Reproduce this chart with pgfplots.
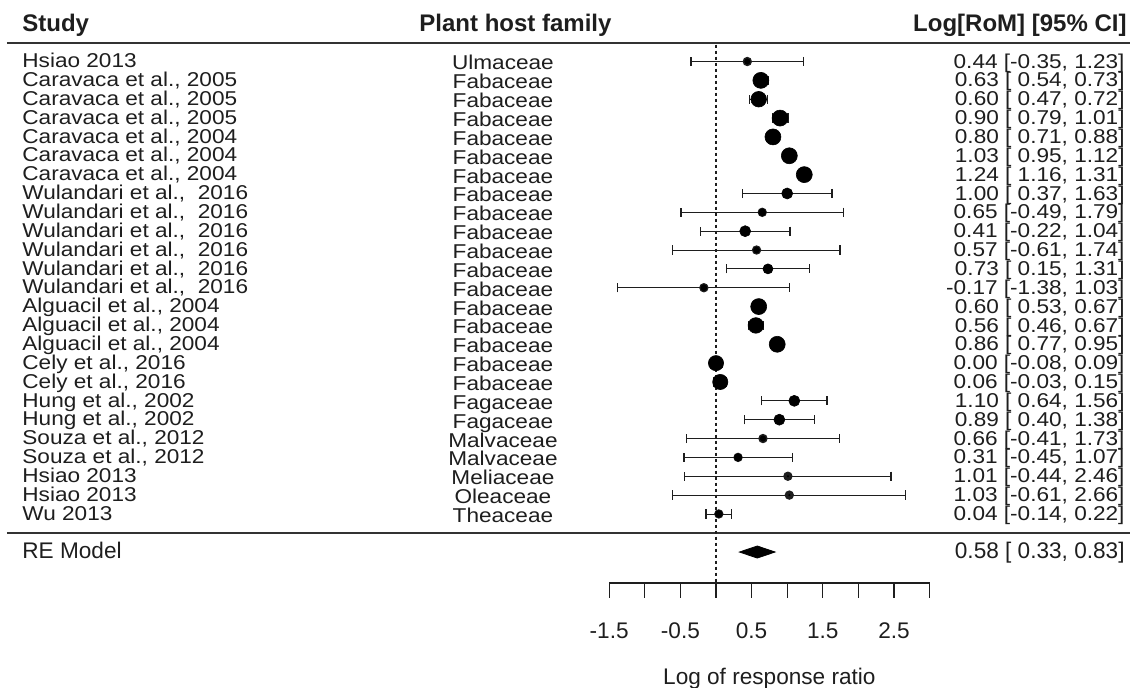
\documentclass[border=0pt]{standalone}
\usepackage{pgfplots}
\pgfplotsset{compat=1.18}
\usepackage{pgfplotstable}
\usepackage{fontspec}
\setmainfont{Liberation Sans}
\newfontfamily\rowfont[FakeStretch=1.13]{Liberation Sans}
\definecolor{txt}{HTML}{1E1E1E}
\definecolor{rule}{HTML}{333333}

% y = -row; est, CI limits, marker radius (pt)
\pgfplotstableread{
y    est    lo     hi    r
-1   0.44  -0.35  1.23  1.35
-2   0.63   0.54  0.73  4.0
-3   0.60   0.47  0.72  3.9
-4   0.90   0.79  1.01  4.0
-5   0.80   0.71  0.88  4.0
-6   1.03   0.95  1.12  4.0
-7   1.24   1.16  1.31  4.0
-8   1.00   0.37  1.63  2.75
-9   0.65  -0.49  1.79  1.75
-10  0.41  -0.22  1.04  2.75
-11  0.57  -0.61  1.74  1.5
-12  0.73   0.15  1.31  2.5
-13 -0.17  -1.38  1.03  1.5
-14  0.60   0.53  0.67  4.0
-15  0.56   0.46  0.67  3.9
-16  0.86   0.77  0.95  4.0
-17  0.00  -0.08  0.09  3.8
-18  0.06  -0.03  0.15  3.8
-19  1.10   0.64  1.56  2.75
-20  0.89   0.40  1.38  2.75
-21  0.66  -0.41  1.73  1.35
-22  0.31  -0.45  1.07  1.85
-23  1.01  -0.44  2.46  0.35
-24  1.03  -0.61  2.66  0.35
-25  0.04  -0.14  0.22  1.75
}\forest

\tikzset{
  rowtxt/.style={font=\rowfont\fontsize{10pt}{10pt}\selectfont, text=txt, inner sep=0pt},
  normtxt/.style={font=\fontsize{11.3pt}{12pt}\selectfont, text=txt, inner sep=0pt},
  headtxt/.style={font=\bfseries\fontsize{12pt}{13pt}\selectfont, text=txt, inner sep=0pt},
}

\begin{document}
\begin{tikzpicture}
\begin{axis}[width=565pt,height=343.5pt,scale only axis,hide axis,
  xmin=-10.056,xmax=5.815,ymin=-34.18,ymax=2.263,clip=false]
  \coordinate (bl) at (rel axis cs:0,0);
  \coordinate (tr) at (rel axis cs:1,1);

  % rules
  \draw[rule,line width=1pt] (axis cs:-9.958,0) -- (axis cs:5.815,0);
  \draw[rule,line width=1pt] (axis cs:-9.958,-26.03) -- (axis cs:5.815,-26.03);
  \draw[txt,line width=0.8pt,dash pattern=on 1.5pt off 1.5pt] (axis cs:0,-0.1) -- (axis cs:0,-28.66);

  % confidence intervals
  \addplot[txt,line width=0.65pt,only marks,mark=none,
    error bars/.cd,x dir=both,x explicit,
    error mark options={rotate=90,mark size=2.3pt,line width=0.65pt,txt}]
    table[x=est,y=y,x error plus expr=\thisrow{hi}-\thisrow{est},
      x error minus expr=\thisrow{est}-\thisrow{lo}] {\forest};
  % point estimates, sized by weight
  \addplot[only marks,mark=*,scatter,line width=0.3pt,
    scatter/use mapped color={draw=black,fill=black},
    visualization depends on={\thisrow{r} \as \rr},
    scatter/@pre marker code/.append style={/tikz/mark size=\rr}]
    table[x=est,y=y] {\forest};

  % RE model diamond
  \addplot[fill=black,draw=black,line width=0.4pt] coordinates
    {(0.33,-27.02) (0.58,-26.70) (0.83,-27.02) (0.58,-27.34)} -- cycle;

  % x axis
  \addplot[txt,line width=0.6pt] coordinates {(-1.5,-28.66) (3,-28.66)};
  \pgfplotsinvokeforeach{-1.5,-1,-0.5,0,0.5,1,1.5,2,2.5,3}{
    \draw[txt,line width=0.6pt] (axis cs:#1,-28.66) -- (axis cs:#1,-29.46);
  }
  \pgfplotsinvokeforeach{-1.5,-0.5,0.5,1.5,2.5}{
    \node[normtxt,anchor=base] at (axis cs:#1,-31.6) {#1};
  }
  \node[normtxt,anchor=base] at (axis cs:0.75,-34.05) {Log of response ratio};

  % headers
  \node[headtxt,anchor=base west] at (axis cs:-9.747,0.58) {Study};
  \node[headtxt,anchor=base] at (axis cs:-2.816,0.58) {Plant host family};
  \node[headtxt,anchor=base east] at (axis cs:5.772,0.58) {Log[RoM] [95\% CI]};

  % study labels
  \node[rowtxt,anchor=base west] at (axis cs:-9.747,-1.33) {Hsiao 2013};
  \node[rowtxt,anchor=base west] at (axis cs:-9.747,-2.33) {Caravaca et al., 2005};
  \node[rowtxt,anchor=base west] at (axis cs:-9.747,-3.33) {Caravaca et al., 2005};
  \node[rowtxt,anchor=base west] at (axis cs:-9.747,-4.33) {Caravaca et al., 2005};
  \node[rowtxt,anchor=base west] at (axis cs:-9.747,-5.33) {Caravaca et al., 2004};
  \node[rowtxt,anchor=base west] at (axis cs:-9.747,-6.33) {Caravaca et al., 2004};
  \node[rowtxt,anchor=base west] at (axis cs:-9.747,-7.33) {Caravaca et al., 2004};
  \node[rowtxt,anchor=base west] at (axis cs:-9.747,-8.33) {Wulandari et al.,\ \ 2016};
  \node[rowtxt,anchor=base west] at (axis cs:-9.747,-9.33) {Wulandari et al.,\ \ 2016};
  \node[rowtxt,anchor=base west] at (axis cs:-9.747,-10.33) {Wulandari et al.,\ \ 2016};
  \node[rowtxt,anchor=base west] at (axis cs:-9.747,-11.33) {Wulandari et al.,\ \ 2016};
  \node[rowtxt,anchor=base west] at (axis cs:-9.747,-12.33) {Wulandari et al.,\ \ 2016};
  \node[rowtxt,anchor=base west] at (axis cs:-9.747,-13.33) {Wulandari et al.,\ \ 2016};
  \node[rowtxt,anchor=base west] at (axis cs:-9.747,-14.33) {Alguacil et al., 2004};
  \node[rowtxt,anchor=base west] at (axis cs:-9.747,-15.33) {Alguacil et al., 2004};
  \node[rowtxt,anchor=base west] at (axis cs:-9.747,-16.33) {Alguacil et al., 2004};
  \node[rowtxt,anchor=base west] at (axis cs:-9.747,-17.33) {Cely et al., 2016};
  \node[rowtxt,anchor=base west] at (axis cs:-9.747,-18.33) {Cely et al., 2016};
  \node[rowtxt,anchor=base west] at (axis cs:-9.747,-19.33) {Hung et al., 2002};
  \node[rowtxt,anchor=base west] at (axis cs:-9.747,-20.33) {Hung et al., 2002};
  \node[rowtxt,anchor=base west] at (axis cs:-9.747,-21.33) {Souza et al., 2012};
  \node[rowtxt,anchor=base west] at (axis cs:-9.747,-22.33) {Souza et al., 2012};
  \node[rowtxt,anchor=base west] at (axis cs:-9.747,-23.33) {Hsiao 2013};
  \node[rowtxt,anchor=base west] at (axis cs:-9.747,-24.33) {Hsiao 2013};
  \node[rowtxt,anchor=base west] at (axis cs:-9.747,-25.33) {Wu 2013};
  \node[normtxt,anchor=base west] at (axis cs:-9.747,-27.34) {RE Model};

  % family labels
  \node[rowtxt,anchor=base] at (axis cs:-2.992,-1.45) {Ulmaceae};
  \node[rowtxt,anchor=base] at (axis cs:-2.992,-2.45) {Fabaceae};
  \node[rowtxt,anchor=base] at (axis cs:-2.992,-3.45) {Fabaceae};
  \node[rowtxt,anchor=base] at (axis cs:-2.992,-4.45) {Fabaceae};
  \node[rowtxt,anchor=base] at (axis cs:-2.992,-5.45) {Fabaceae};
  \node[rowtxt,anchor=base] at (axis cs:-2.992,-6.45) {Fabaceae};
  \node[rowtxt,anchor=base] at (axis cs:-2.992,-7.45) {Fabaceae};
  \node[rowtxt,anchor=base] at (axis cs:-2.992,-8.45) {Fabaceae};
  \node[rowtxt,anchor=base] at (axis cs:-2.992,-9.45) {Fabaceae};
  \node[rowtxt,anchor=base] at (axis cs:-2.992,-10.45) {Fabaceae};
  \node[rowtxt,anchor=base] at (axis cs:-2.992,-11.45) {Fabaceae};
  \node[rowtxt,anchor=base] at (axis cs:-2.992,-12.45) {Fabaceae};
  \node[rowtxt,anchor=base] at (axis cs:-2.992,-13.45) {Fabaceae};
  \node[rowtxt,anchor=base] at (axis cs:-2.992,-14.45) {Fabaceae};
  \node[rowtxt,anchor=base] at (axis cs:-2.992,-15.45) {Fabaceae};
  \node[rowtxt,anchor=base] at (axis cs:-2.992,-16.45) {Fabaceae};
  \node[rowtxt,anchor=base] at (axis cs:-2.992,-17.45) {Fabaceae};
  \node[rowtxt,anchor=base] at (axis cs:-2.992,-18.45) {Fabaceae};
  \node[rowtxt,anchor=base] at (axis cs:-2.992,-19.45) {Fagaceae};
  \node[rowtxt,anchor=base] at (axis cs:-2.992,-20.45) {Fagaceae};
  \node[rowtxt,anchor=base] at (axis cs:-2.992,-21.45) {Malvaceae};
  \node[rowtxt,anchor=base] at (axis cs:-2.992,-22.45) {Malvaceae};
  \node[rowtxt,anchor=base] at (axis cs:-2.992,-23.45) {Meliaceae};
  \node[rowtxt,anchor=base] at (axis cs:-2.992,-24.45) {Oleaceae};
  \node[rowtxt,anchor=base] at (axis cs:-2.992,-25.45) {Theaceae};

  % estimates and CIs as text
  \node[rowtxt,anchor=base east] at (axis cs:5.744,-1.35) {0.44 [-0.35, 1.23]};
  \node[rowtxt,anchor=base east] at (axis cs:5.744,-2.35) {0.63 [ 0.54, 0.73]};
  \node[rowtxt,anchor=base east] at (axis cs:5.744,-3.35) {0.60 [ 0.47, 0.72]};
  \node[rowtxt,anchor=base east] at (axis cs:5.744,-4.35) {0.90 [ 0.79, 1.01]};
  \node[rowtxt,anchor=base east] at (axis cs:5.744,-5.35) {0.80 [ 0.71, 0.88]};
  \node[rowtxt,anchor=base east] at (axis cs:5.744,-6.35) {1.03 [ 0.95, 1.12]};
  \node[rowtxt,anchor=base east] at (axis cs:5.744,-7.35) {1.24 [ 1.16, 1.31]};
  \node[rowtxt,anchor=base east] at (axis cs:5.744,-8.35) {1.00 [ 0.37, 1.63]};
  \node[rowtxt,anchor=base east] at (axis cs:5.744,-9.35) {0.65 [-0.49, 1.79]};
  \node[rowtxt,anchor=base east] at (axis cs:5.744,-10.35) {0.41 [-0.22, 1.04]};
  \node[rowtxt,anchor=base east] at (axis cs:5.744,-11.35) {0.57 [-0.61, 1.74]};
  \node[rowtxt,anchor=base east] at (axis cs:5.744,-12.35) {0.73 [ 0.15, 1.31]};
  \node[rowtxt,anchor=base east] at (axis cs:5.744,-13.35) {-0.17 [-1.38, 1.03]};
  \node[rowtxt,anchor=base east] at (axis cs:5.744,-14.35) {0.60 [ 0.53, 0.67]};
  \node[rowtxt,anchor=base east] at (axis cs:5.744,-15.35) {0.56 [ 0.46, 0.67]};
  \node[rowtxt,anchor=base east] at (axis cs:5.744,-16.35) {0.86 [ 0.77, 0.95]};
  \node[rowtxt,anchor=base east] at (axis cs:5.744,-17.35) {0.00 [-0.08, 0.09]};
  \node[rowtxt,anchor=base east] at (axis cs:5.744,-18.35) {0.06 [-0.03, 0.15]};
  \node[rowtxt,anchor=base east] at (axis cs:5.744,-19.35) {1.10 [ 0.64, 1.56]};
  \node[rowtxt,anchor=base east] at (axis cs:5.744,-20.35) {0.89 [ 0.40, 1.38]};
  \node[rowtxt,anchor=base east] at (axis cs:5.744,-21.35) {0.66 [-0.41, 1.73]};
  \node[rowtxt,anchor=base east] at (axis cs:5.744,-22.35) {0.31 [-0.45, 1.07]};
  \node[rowtxt,anchor=base east] at (axis cs:5.744,-23.35) {1.01 [-0.44, 2.46]};
  \node[rowtxt,anchor=base east] at (axis cs:5.744,-24.35) {1.03 [-0.61, 2.66]};
  \node[rowtxt,anchor=base east] at (axis cs:5.744,-25.35) {0.04 [-0.14, 0.22]};
  \node[normtxt,anchor=base east] at (axis cs:5.744,-27.34) {0.58 [ 0.33, 0.83]};
\end{axis}
\pgfresetboundingbox
\path (bl) rectangle (tr);
\end{tikzpicture}
\end{document}
